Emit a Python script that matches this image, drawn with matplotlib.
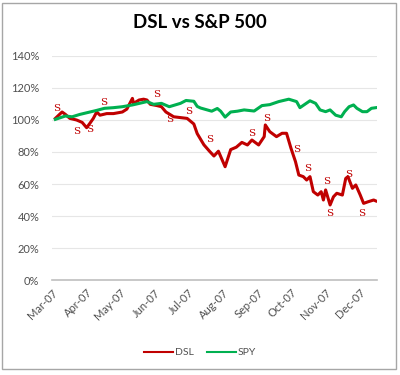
import matplotlib
matplotlib.use('Agg')
import matplotlib.pyplot as plt
import matplotlib.dates as mdates
import numpy as np
import pandas as pd

plt.rcParams['font.family'] = ['Lato', 'DejaVu Sans']

# DSL price relative to start (%)
dsl_dates = ['2007-03-04', '2007-03-10', '2007-03-13', '2007-03-17', '2007-03-23', '2007-03-28',
             '2007-04-01', '2007-04-04', '2007-04-07', '2007-04-10', '2007-04-13', '2007-04-19',
             '2007-04-25', '2007-05-03', '2007-05-07', '2007-05-12', '2007-05-13', '2007-05-18',
             '2007-05-22', '2007-05-25', '2007-05-28', '2007-06-03', '2007-06-07', '2007-06-11',
             '2007-06-18', '2007-06-24', '2007-06-30', '2007-07-06', '2007-07-09', '2007-07-15',
             '2007-07-20', '2007-07-24', '2007-07-28', '2007-08-03', '2007-08-08', '2007-08-13',
             '2007-08-18', '2007-08-23', '2007-08-27', '2007-09-02', '2007-09-07', '2007-09-08',
             '2007-09-12', '2007-09-18', '2007-09-23', '2007-09-27', '2007-10-01', '2007-10-05',
             '2007-10-08', '2007-10-12', '2007-10-15', '2007-10-18', '2007-10-21', '2007-10-25',
             '2007-10-28', '2007-10-30', '2007-11-01', '2007-11-05', '2007-11-08', '2007-11-11',
             '2007-11-16', '2007-11-19', '2007-11-21', '2007-11-25', '2007-11-28', '2007-12-02',
             '2007-12-05', '2007-12-09', '2007-12-14', '2007-12-16']
dsl_vals = [101, 105, 103.5, 101, 100, 98.5,
            95.2, 98, 101, 105, 103, 104,
            104, 105, 106.8, 113.5, 110.4, 112.5,
            113, 112.5, 109.8, 109, 108.3, 105,
            102, 101.5, 101, 97.5, 91.5, 84.5,
            80.5, 77.5, 80.5, 70.8, 81.5, 83,
            86, 84.4, 87.5, 84.4, 89.6, 96.9,
            92.7, 89.6, 91.7, 91.7, 82.3, 74,
            65.6, 64.6, 62.5, 64.6, 55.2, 53.1,
            55.2, 50, 56.3, 46.9, 52, 54.2,
            53.1, 63.5, 64.6, 57.3, 59.4, 53.1,
            47.9, 48.9, 50, 49.4]

# SPY relative to start (%)
spy_dates = ['2007-03-04', '2007-03-13', '2007-03-19', '2007-03-26', '2007-04-04', '2007-04-10',
             '2007-04-17', '2007-04-25', '2007-05-03', '2007-05-12', '2007-05-22', '2007-05-25',
             '2007-05-31', '2007-06-07', '2007-06-14', '2007-06-24', '2007-06-29', '2007-07-06',
             '2007-07-09', '2007-07-12', '2007-07-18', '2007-07-22', '2007-07-27', '2007-07-30',
             '2007-08-03', '2007-08-08', '2007-08-14', '2007-08-20', '2007-08-29', '2007-09-05',
             '2007-09-12', '2007-09-20', '2007-09-29', '2007-10-06', '2007-10-09', '2007-10-18',
             '2007-10-23', '2007-10-27', '2007-11-01', '2007-11-05', '2007-11-10', '2007-11-15',
             '2007-11-18', '2007-11-22', '2007-11-26', '2007-11-29', '2007-12-04', '2007-12-08',
             '2007-12-12', '2007-12-16']
spy_vals = [100.4, 102.5, 102, 103.5, 105, 106,
            107.3, 107.7, 108.3, 109.4, 111, 111.5,
            109.8, 110.4, 108.3, 110.4, 112.2, 111.7,
            108.5, 107.5, 106.3, 105.5, 107.2, 105.5,
            101.8, 105, 105.5, 106.3, 105.6, 109,
            109.6, 111.5, 113, 111.5, 107.7, 112,
            110.4, 106.3, 105.2, 106.3, 103, 102,
            105.2, 108.3, 109.4, 107.3, 105.2, 105.2,
            107.3, 107.7]

# sell signals ("S" labels)
sig_dates = ['2007-03-05', '2007-03-23', '2007-04-04', '2007-04-16', '2007-06-03', '2007-06-14',
             '2007-07-01', '2007-07-20', '2007-08-27', '2007-09-09', '2007-10-06', '2007-10-16',
             '2007-11-02', '2007-11-05', '2007-11-22', '2007-12-03']
sig_vals = [107.3, 92.7, 93.8, 110.8, 116.1, 100,
            105.2, 87.5, 91.3, 101.1, 81.7, 69.4,
            61.4, 41.7, 66.1, 41.7]

months = pd.date_range('2007-03-01', '2007-12-01', freq='MS')

fig = plt.figure(figsize=(4, 3.75), dpi=100)
ax = fig.add_axes([0.13, 0.2533, 0.8125, 0.5974])

ax.plot(pd.to_datetime(dsl_dates), np.array(dsl_vals) / 100, color='#C00000', lw=2.2, label='DSL')
ax.plot(pd.to_datetime(spy_dates), np.array(spy_vals) / 100, color='#00B050', lw=2.2, label='SPY')
for d, v in zip(pd.to_datetime(sig_dates), sig_vals):
    ax.text(d, v / 100, 'S', color='#C00000', fontsize=7.5, family='DejaVu Serif',
            ha='center', va='center')

ax.set_ylim(0, 1.4)
ax.set_yticks(np.arange(0, 1.41, 0.2))
ax.set_yticklabels([f'{int(round(t * 100))}%' for t in np.arange(0, 1.41, 0.2)])
ax.set_xlim(pd.Timestamp('2007-03-01'), pd.Timestamp('2007-12-17'))
ax.set_xticks(months)
ax.xaxis.set_major_formatter(mdates.DateFormatter('%b-%y'))
for lab in ax.get_xticklabels():
    lab.set_rotation(45)
    lab.set_ha('right')
    lab.set_rotation_mode('anchor')

ax.grid(axis='y', color='#e6e6e6', lw=0.8)
ax.set_axisbelow(True)
for s in ['top', 'right', 'left']:
    ax.spines[s].set_visible(False)
ax.spines['bottom'].set_color('#bfbfbf')
ax.spines['bottom'].set_linewidth(1.2)
ax.tick_params(length=0, labelsize=8, colors='#505050')
ax.tick_params(axis='y', pad=9)
ax.tick_params(axis='x', pad=5)

fig.text(0.5, 0.94, 'DSL vs S&P 500', ha='center', va='center', fontsize=13.5, fontweight='bold')
fig.legend(loc='center', bbox_to_anchor=(0.5, 0.06), ncol=2, frameon=False, fontsize=7.5,
           handlelength=2.8, columnspacing=1.2, handletextpad=0.2, labelcolor='#505050')
for lh in fig.legends[0].get_lines():
    lh.set_linewidth(1.5)

fig.patches.append(plt.Rectangle((0.005, 0.016), 0.985, 0.977, transform=fig.transFigure,
                                 fill=False, edgecolor='#a6a6a6', lw=1))

fig.savefig('out.png', dpi=100)
